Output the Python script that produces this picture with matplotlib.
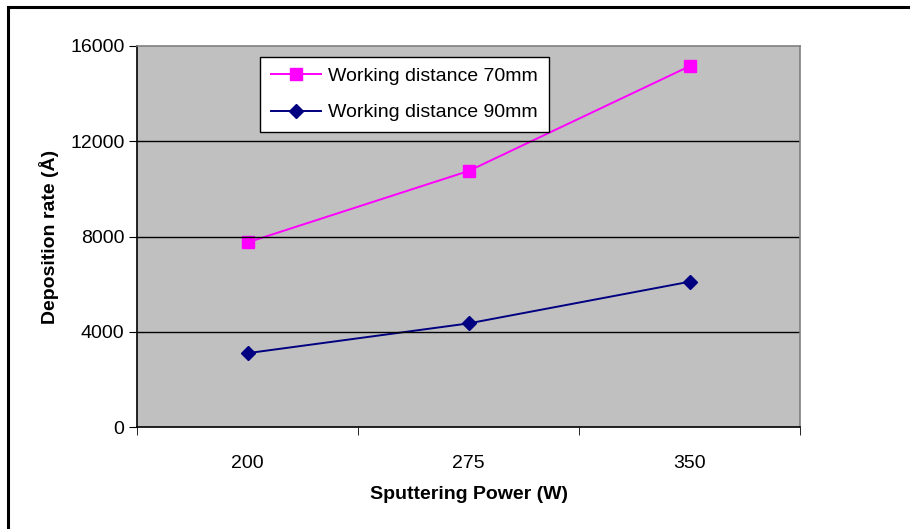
import matplotlib.pyplot as plt
from matplotlib.patches import Rectangle

# Data
powers = ["200", "275", "350"]
rate_70mm = [7750, 10750, 15150]
rate_90mm = [3100, 4350, 6100]
y_ticks = [0, 4000, 8000, 12000, 16000]

plt.rcParams["font.family"] = ["Liberation Sans", "DejaVu Sans"]

fig = plt.figure(figsize=(9.1, 5.29), dpi=100)
ax = fig.add_axes([137 / 910, 1 - 427 / 529, 663 / 910, 381 / 529])

# outer frame
fig.patches.append(
    Rectangle((8 / 910, -0.1), 1.2, 1.1 - 8 / 529 + 0.002,
              transform=fig.transFigure, fill=False,
              edgecolor="black", linewidth=2.2)
)

x = [0, 1, 2]

ax.set_facecolor("#C0C0C0")
ax.plot(x, rate_70mm, color="#FF00FF", marker="s", markersize=8,
        linewidth=1.4, label="Working distance 70mm")
ax.plot(x, rate_90mm, color="#000080", marker="D", markersize=7.5,
        linewidth=1.4, label="Working distance 90mm")

ax.set_xlim(-0.5, 2.5)
ax.set_ylim(0, 16000)
ax.set_yticks(y_ticks)
ax.set_xticks(x)
ax.set_xticklabels(powers)
ax.set_xticks([-0.5, 0.5, 1.5, 2.5], minor=True)
ax.tick_params(axis="x", which="major", length=0, pad=20, labelsize=14)
ax.tick_params(axis="x", which="minor", length=6, direction="out")
ax.tick_params(axis="y", length=6, direction="out", labelsize=14, pad=3)

for yv in y_ticks[1:-1]:
    ax.axhline(yv, color="black", linewidth=1)

ax.spines["left"].set_color("black")
ax.spines["bottom"].set_color("black")
ax.spines["top"].set_color("#808080")
ax.spines["right"].set_color("#808080")
for s in ax.spines.values():
    s.set_linewidth(1.2)

ax.set_xlabel("Sputtering Power (W)", fontsize=14, fontweight="bold", labelpad=10)
ax.set_ylabel("Deposition rate (Å)", fontsize=14, fontweight="bold", labelpad=8)

leg = ax.legend(loc="upper left", bbox_to_anchor=(123 / 663, 1 - 11 / 381),
                fontsize=14, frameon=True, fancybox=False, borderpad=0.55,
                borderaxespad=0, handlelength=2.6, handletextpad=0.35,
                labelspacing=0.95)
leg.get_frame().set_edgecolor("black")
leg.get_frame().set_facecolor("white")
leg.get_frame().set_linewidth(1)
leg.get_frame().set_alpha(1)

fig.savefig("out.png", dpi=100)
